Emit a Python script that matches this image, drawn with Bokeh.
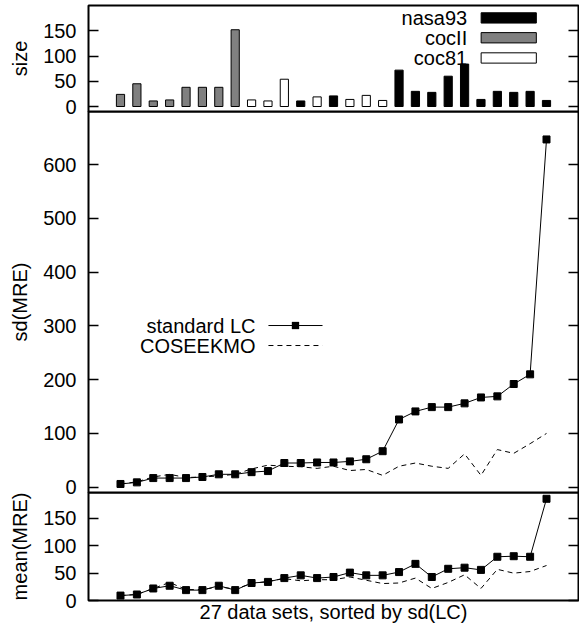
import numpy as np
from bokeh.plotting import figure
from bokeh.layouts import column
from bokeh.models import (ColumnDataSource, Range1d, LinearAxis, FixedTicker,
                          Label, BoxAnnotation, Arrow)
from bokeh.embed import file_html
from bokeh.resources import INLINE

# ---------------- data ----------------
idx = list(range(1, 28))
dataset = ["cocII"] * 8 + ["coc81", "coc81", "coc81", "nasa93", "coc81", "nasa93",
                           "coc81", "coc81", "coc81"] + ["nasa93"] * 10
size = [24, 45, 11, 13, 38, 38, 38, 152, 13, 11, 54, 11, 19, 21, 14, 22, 12,
        72, 30, 28, 60, 84, 14, 30, 28, 30, 12]
sd_lc = [6, 9, 17, 17, 17, 19, 24, 24, 28, 30, 45, 45, 46, 46, 48, 52, 67,
         126, 141, 149, 149, 156, 167, 169, 192, 210, 647]
sd_cos = [6, 10, 19, 24, 18, 19, 21, 24, 34, 41, 39, 38, 35, 39, 31, 33, 22,
          39, 45, 39, 35, 62, 22, 70, 63, 81, 100]
mean_lc = [9, 11, 22, 27, 19, 19, 27, 19, 32, 34, 41, 46, 41, 43, 51, 46, 46,
           52, 67, 43, 58, 60, 56, 80, 81, 80, 186]
mean_cos = [9, 11, 22, 33, 20, 20, 25, 21, 31, 35, 40, 36, 38, 38, 43, 37, 31,
            32, 41, 22, 33, 47, 22, 57, 50, 53, 64]
legend_order = ["nasa93", "cocII", "coc81"]
size_ticks = [0, 50, 100, 150]
sd_ticks = [0, 100, 200, 300, 400, 500, 600]
mean_ticks = [0, 50, 100, 150]

# ---------------- style ----------------
FONT = "Liberation Sans"
FS = "20px"
W = 579
XR = (-0.953, 28.953)
fills = {"nasa93": "black", "cocII": "#808080", "coc81": "white"}
OV = 8  # transparent strip below a panel, overlapped by the next panel (px)


def make_fig(height, yr, ticks, label, top_b, bot_b):
    p = figure(width=W, height=height, output_backend="svg", toolbar_location=None,
               x_range=Range1d(*XR), y_range=Range1d(*yr),
               x_axis_location=None, y_axis_location="left",
               min_border_left=88, min_border_right=1,
               min_border_top=top_b, min_border_bottom=bot_b)
    p.grid.visible = False
    p.outline_line_color = "black"
    p.outline_line_width = 2
    p.border_fill_alpha = 0
    p.background_fill_alpha = 0
    ax = p.yaxis[0]
    ax.ticker = FixedTicker(ticks=ticks)
    ax.major_tick_in = 10
    ax.major_tick_out = 0
    ax.minor_tick_in = 0
    ax.minor_tick_out = 0
    ax.major_tick_line_color = "black"
    ax.major_tick_line_width = 1.5
    ax.axis_line_color = None
    ax.major_label_text_font = FONT
    ax.major_label_text_font_size = FS
    ax.major_label_text_color = "black"
    ax.major_label_standoff = 12
    ax.axis_label = label
    ax.axis_label_text_font = FONT
    ax.axis_label_text_font_size = FS
    ax.axis_label_text_font_style = "normal"
    ax.axis_label_text_color = "black"
    ax.axis_label_standoff = 9
    r = LinearAxis(ticker=FixedTicker(ticks=ticks), major_tick_in=10, major_tick_out=0,
                   minor_tick_in=0, minor_tick_out=0, axis_line_color=None,
                   major_tick_line_color="black", major_tick_line_width=1.5,
                   major_label_overrides={t: "" for t in ticks}, major_label_standoff=0)
    p.add_layout(r, "right")
    return p


def legend_text(p, x, y, text):
    p.add_layout(Label(x=x, y=y, text=text, text_align="right", text_baseline="middle",
                       text_font=FONT, text_font_size=FS, text_color="black"))


# ---- top: size bars ----
p1 = make_fig(111 + OV, (-9.9, 200), size_ticks, "size", 5, OV)
for name in ["cocII", "coc81", "nasa93"]:
    xs = [i for i, d in zip(idx, dataset) if d == name]
    ys = [s for s, d in zip(size, dataset) if d == name]
    src = ColumnDataSource(dict(x=xs, top=ys))
    p1.vbar(x="x", top="top", bottom=0, width=0.5, source=src,
            fill_color=fills[name], line_color="black", line_width=1)
# legend (text left, sample box right)
leg_y = {"nasa93": 175.4, "cocII": 136.1, "coc81": 96.1}
for name in legend_order:
    yc = leg_y[name]
    legend_text(p1, 22.16, yc, name)
    p1.add_layout(BoxAnnotation(left=23.01, right=26.38, bottom=yc - 10.2, top=yc + 10.2,
                                fill_color=fills[name], fill_alpha=1,
                                line_color="black", line_width=1, line_alpha=1))

# ---- middle: sd(MRE) ----
p2 = make_fig(381 + OV, (-9.86, 699), sd_ticks, "sd(MRE)", 0, OV)
p2.line(idx, sd_lc, line_color="black", line_width=1)
p2.scatter(idx, sd_lc, marker="square", size=7, color="black")
p2.line(idx, sd_cos, line_color="black", line_width=1, line_dash="5 4")
legend_text(p2, 9.24, 300.8, "standard LC")
legend_text(p2, 9.24, 263.6, "COSEEKMO")
p2.add_layout(Arrow(end=None, x_start=10.03, y_start=300.8, x_end=13.33, y_end=300.8,
                    line_color="black", line_width=1))
p2.add_layout(BoxAnnotation(left=11.68 - 0.214, right=11.68 + 0.214,
                            bottom=300.8 - 6.5, top=300.8 + 6.5,
                            fill_color="black", fill_alpha=1, line_color="black"))
p2.add_layout(Arrow(end=None, x_start=10.03, y_start=263.6, x_end=13.33, y_end=263.6,
                    line_color="black", line_width=1, line_dash="5 4"))

# ---- bottom: mean(MRE) ----
p3 = make_fig(142, (0, 197.5), mean_ticks, "mean(MRE)", 0, 34)
p3.line(idx, mean_lc, line_color="black", line_width=1)
p3.scatter(idx, mean_lc, marker="square", size=7, color="black")
p3.line(idx, mean_cos, line_color="black", line_width=1, line_dash="5 4")
xa = LinearAxis(ticker=FixedTicker(ticks=[]), axis_line_color=None,
                major_tick_in=0, major_tick_out=0, minor_tick_in=0, minor_tick_out=0,
                major_label_standoff=0,
                axis_label="27 data sets, sorted by sd(LC)", axis_label_text_font=FONT,
                axis_label_text_font_size=FS, axis_label_text_font_style="normal",
                axis_label_text_color="black", axis_label_standoff=0)
p3.add_layout(xa, "below")

p2.styles = {"margin-top": f"-{OV}px"}
p3.styles = {"margin-top": f"-{OV}px"}

layout = column(p1, p2, p3, spacing=0)
open("out.html", "w").write(file_html(layout, INLINE))
